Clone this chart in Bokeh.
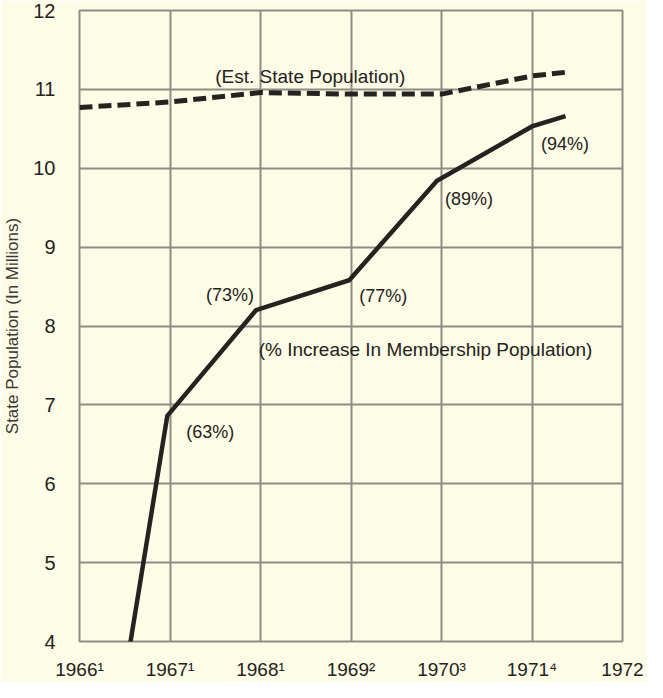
from bokeh.plotting import figure
from bokeh.models import Range1d, FixedTicker, ColumnDataSource
from bokeh.core.properties import value
from bokeh.embed import file_html
from bokeh.resources import INLINE

# ---- data ----
year_ticks = [1966, 1967, 1968, 1969, 1970, 1971, 1972]
year_labels = ["1966¹", "1967¹", "1968¹", "1969²", "1970³", "1971⁴", "1972"]
pop_ticks = [4, 5, 6, 7, 8, 9, 10, 11, 12]

# membership population curve (state population in millions)
member_x = [1966.55, 1966.97, 1967.95, 1968.98, 1969.95, 1971.00, 1971.37]
member_y = [3.90, 6.86, 8.20, 8.58, 9.84, 10.53, 10.66]

# estimated state population (dashed)
state_x = [1966.0, 1967.0, 1968.0, 1969.0, 1970.0, 1971.0, 1971.40]
state_y = [10.77, 10.84, 10.96, 10.94, 10.94, 11.17, 11.22]

# percent increase labels at the membership points
pct_labels = ["(63%)", "(73%)", "(77%)", "(89%)", "(94%)"]
pct_x = member_x[1:6]
pct_y = member_y[1:6]

series_labels = ["(Est. State Population)", "(% Increase In Membership Population)"]
series_label_x = [1967.50, 1967.98]
series_label_y = [11.16, 7.70]

# ---- styles ----
BG = "#fdfce6"
GRID = "#8e8d84"
INK = "#252220"
FONT = "Liberation Sans"

p = figure(width=647, height=682,
           x_range=Range1d(1966, 1972), y_range=Range1d(4, 12),
           output_backend="svg", toolbar_location=None,
           min_border_left=67, min_border_right=25,
           min_border_top=10, min_border_bottom=34,
           background_fill_color=BG, border_fill_color=BG)

p.outline_line_color = GRID
p.outline_line_width = 2

p.xaxis.ticker = FixedTicker(ticks=year_ticks)
p.yaxis.ticker = FixedTicker(ticks=pop_ticks)
p.xaxis.major_label_overrides = {t: s for t, s in zip(year_ticks, year_labels)}

for ax in (p.xaxis, p.yaxis):
    ax.axis_line_color = None
    ax.major_tick_line_color = None
    ax.minor_tick_line_color = None
    ax.major_label_text_font = FONT
    ax.major_label_text_color = INK

p.xaxis.major_label_text_font_size = "19px"
p.xaxis.major_label_standoff = 11
p.yaxis.major_label_text_font_size = "20px"
p.yaxis.major_label_standoff = 18

p.yaxis.axis_label = "State Population (In Millions)"
p.yaxis.axis_label_text_font = FONT
p.yaxis.axis_label_text_font_size = "17px"
p.yaxis.axis_label_text_font_style = "normal"
p.yaxis.axis_label_text_color = "#3a3734"
p.yaxis.axis_label_standoff = 8

p.xgrid.grid_line_color = GRID
p.ygrid.grid_line_color = GRID
p.xgrid.grid_line_width = 2
p.ygrid.grid_line_width = 2

p.line(state_x, state_y, line_color=INK, line_width=5, line_dash="13 6")
p.line(member_x, member_y, line_color=INK, line_width=4.5, line_join="miter")

pct_src = ColumnDataSource(dict(
    x=pct_x, y=pct_y, text=pct_labels,
    xo=[19, -2, 10, 8, 9], yo=[16, -15, 16, 18, 18],
    align=["left", "right", "left", "left", "left"],
))
p.text(x="x", y="y", text="text", source=pct_src, x_offset="xo", y_offset="yo",
       text_align="align", text_baseline="middle",
       text_font=value(FONT), text_font_size="18px", text_color=INK)

p.text(x=series_label_x, y=series_label_y, text=series_labels,
       text_align="left", text_baseline="middle",
       text_font=value(FONT), text_font_size="19px", text_color=INK)

html = file_html(p, INLINE)
html = html.replace("<body>", '<body style="background-color:%s;">' % BG, 1)
open("out.html", "w").write(html)
